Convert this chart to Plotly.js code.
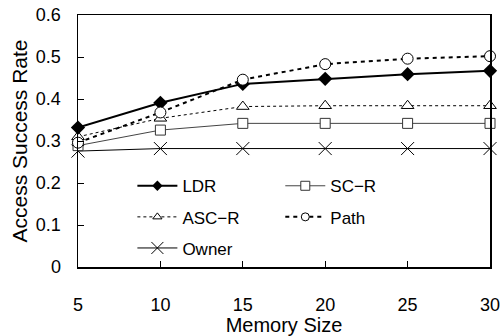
<!DOCTYPE html>
<html><head><meta charset="utf-8">
<script src="https://cdn.plot.ly/plotly-3.0.1.min.js"></script>
<style>html,body{margin:0;padding:0;background:#fff}#c{width:503px;height:336px}</style>
</head><body><div id="c"></div>
<script>
const memorySize = [5, 10, 15, 20, 25, 30];
const ldr   = [0.332, 0.391, 0.436, 0.448, 0.459, 0.467];
const scr   = [0.289, 0.326, 0.342, 0.342, 0.342, 0.342];
const ascr  = [0.310, 0.354, 0.382, 0.384, 0.384, 0.384];
const path  = [0.296, 0.368, 0.446, 0.483, 0.496, 0.502];
const owner = [0.276, 0.282, 0.282, 0.282, 0.282, 0.282];
const yTicks = [0, 0.1, 0.2, 0.3, 0.4, 0.5, 0.6];
const yTickText = ['0', '0.1', '0.2', '0.3', '0.4', '0.5', '0.6'];
const seriesNames = ['LDR', 'SC\u2212R', 'ASC\u2212R', 'Path', 'Owner'];

const F = '"Liberation Sans", Arial, sans-serif';
const openMarker = (sym, size, col) => ({symbol: sym, size: size, color: '#fff', line: {color: col || '#000', width: 1}});

const styles = {
  'LDR':   {line: {color: '#000', width: 2}, marker: {symbol: 'diamond', size: 11, color: '#000'},
            lmarker: {symbol: 'diamond', size: 8, color: '#000'}, legend: 'legend'},
  'SC\u2212R': {line: {color: '#444', width: 1}, marker: openMarker('square', 10, '#333'),
            lmarker: openMarker('square', 9, '#333'), legend: 'legend2'},
  'ASC\u2212R': {line: {color: '#000', width: 1, dash: 'dot'}, marker: openMarker('triangle-up', 11),
            lmarker: openMarker('triangle-up', 8), legend: 'legend'},
  'Path':  {line: {color: '#000', width: 2, dash: '4px,4px'}, marker: openMarker('circle', 11),
            lmarker: openMarker('circle', 8), legend: 'legend2'},
  'Owner': {line: {color: '#000', width: 1}, marker: {symbol: 'x-thin', size: 13, line: {color: '#000', width: 1}},
            lmarker: {symbol: 'x-thin', size: 12, line: {color: '#000', width: 1}}, legend: 'legend'}
};
const dataBy = {'LDR': ldr, 'SC\u2212R': scr, 'ASC\u2212R': ascr, 'Path': path, 'Owner': owner};
const drawOrder = ['Owner', 'SC\u2212R', 'ASC\u2212R', 'LDR', 'Path'];

const traces = [];
drawOrder.forEach(n => {
  const s = styles[n];
  traces.push({x: memorySize, y: dataBy[n], name: n, mode: 'lines+markers', showlegend: false,
    line: s.line, marker: s.marker, cliponaxis: false});
});
seriesNames.forEach((n, i) => {
  const s = styles[n];
  traces.push({x: [null], y: [null], name: n, mode: 'lines+markers', showlegend: true,
    legend: s.legend, legendgroup: 'g' + i, legendrank: i,
    line: s.line, marker: s.lmarker});
});

const legendCommon = {xanchor: 'left', yanchor: 'top', bgcolor: 'rgba(0,0,0,0)',
  font: {size: 17, family: F}, itemwidth: 40, tracegroupgap: 6, traceorder: 'grouped'};

const layout = {
  width: 503, height: 336,
  margin: {l: 77.5, r: 13, t: 15, b: 69},
  paper_bgcolor: '#fff', plot_bgcolor: '#fff',
  font: {family: F, color: '#000', size: 17},
  showlegend: true,
  xaxis: {
    range: [5, 30], tickvals: memorySize, ticktext: memorySize.map(String),
    showgrid: false, zeroline: false, showline: true, mirror: true,
    linecolor: '#000', linewidth: 1.5, ticks: 'inside', ticklen: 6, tickcolor: '#000',
    ticklabelstandoff: 21, tickfont: {size: 18},
    title: {text: 'Memory Size', font: {size: 20}, standoff: 0}
  },
  yaxis: {
    range: [0, 0.6], tickvals: yTicks, ticktext: yTickText,
    showgrid: false, zeroline: false, showline: true, mirror: true,
    linecolor: '#000', linewidth: 1.5, ticks: 'inside', ticklen: 6, tickcolor: '#000',
    ticklabelstandoff: 12, tickfont: {size: 18},
    title: {text: 'Access Success Rate', font: {size: 21}, standoff: 2}
  },
  legend: Object.assign({x: 0.132, y: 0.392}, legendCommon),
  legend2: Object.assign({x: 0.491, y: 0.392}, legendCommon)
};

Plotly.newPlot('c', traces, layout, {displayModeBar: false, staticPlot: true});
</script></body></html>
